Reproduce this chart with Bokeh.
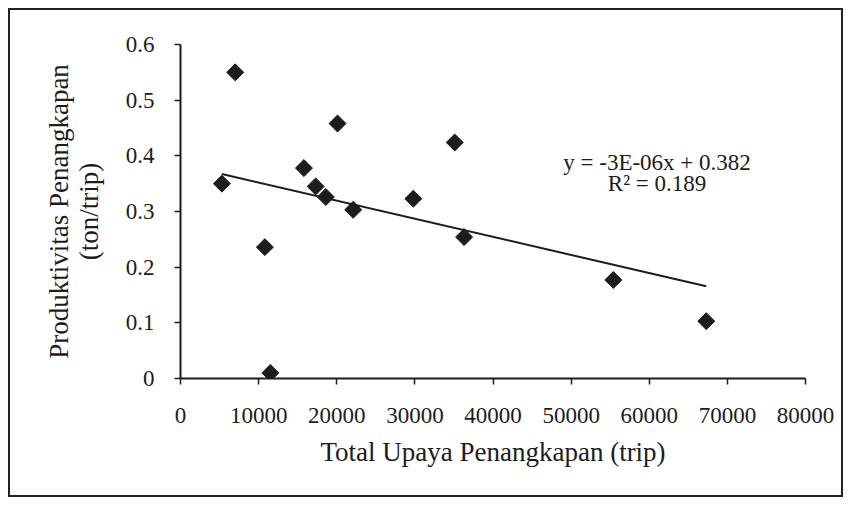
import numpy as np
from bokeh.plotting import figure
from bokeh.models import Range1d, FixedTicker, Label
from bokeh.embed import file_html
from bokeh.resources import INLINE

# ---- data ----
effort = [5300, 7000, 10800, 11500, 15800, 17300, 18600, 20100, 22100, 29800,
          35100, 36300, 55400, 67300]
productivity = [0.350, 0.550, 0.236, 0.010, 0.378, 0.345, 0.326, 0.458, 0.303,
                0.323, 0.424, 0.254, 0.177, 0.103]

x_ticks = [0, 10000, 20000, 30000, 40000, 50000, 60000, 70000, 80000]
x_tick_labels = ["0", "10000", "20000", "30000", "40000", "50000", "60000", "70000", "80000"]
y_ticks = [0, 0.1, 0.2, 0.3, 0.4, 0.5, 0.6]
y_tick_labels = ["0", "0.1", "0.2", "0.3", "0.4", "0.5", "0.6"]

x_title = "Total Upaya Penangkapan (trip)"
y_title = "Produktivitas Penangkapan\n(ton/trip)"
equation_text = "y = -3E-06x + 0.382"
r2_text = "R\u00b2 = 0.189"

# linear trend line (least squares, as in the original spreadsheet chart)
slope, intercept = np.polyfit(effort, productivity, 1)
trend_x = [min(effort), max(effort)]
trend_y = [slope * v + intercept for v in trend_x]

FONT = "'Liberation Serif', serif"
INK = "#1c1c1c"

p = figure(width=835, height=489, output_backend="svg", toolbar_location=None,
           x_range=Range1d(0, 80000), y_range=Range1d(0, 0.6),
           min_border_left=170, min_border_right=40, min_border_top=34,
           min_border_bottom=121)
p.background_fill_color = "white"
p.border_fill_color = "white"
p.outline_line_color = None
p.xgrid.visible = False
p.ygrid.visible = False
p.styles = {"border": "2px solid #222", "margin": "8px 0 0 8px"}

p.line(trend_x, trend_y, line_width=2, color=INK)
p.scatter(effort, productivity, marker="square", angle=np.pi / 4, size=12,
          color=INK)

for ax, ticks, labels in ((p.xaxis[0], x_ticks, x_tick_labels),
                          (p.yaxis[0], y_ticks, y_tick_labels)):
    ax.ticker = FixedTicker(ticks=ticks)
    ax.major_label_overrides = {t: l for t, l in zip(ticks, labels)}
    ax.axis_line_width = 2
    ax.axis_line_color = INK
    ax.major_tick_line_color = INK
    ax.major_tick_line_width = 1.5
    ax.major_tick_in = 0
    ax.major_tick_out = 6
    ax.minor_tick_in = 0
    ax.minor_tick_out = 0
    ax.major_label_text_font = FONT
    ax.major_label_text_font_size = "23px"
    ax.major_label_text_color = INK
    ax.axis_label_text_font = FONT
    ax.axis_label_text_font_size = "27px"
    ax.axis_label_text_font_style = "normal"
    ax.axis_label_text_color = INK

p.xaxis[0].axis_label = x_title
p.xaxis[0].major_label_standoff = 23
p.xaxis[0].axis_label_standoff = 11
p.yaxis[0].axis_label = y_title
p.yaxis[0].major_label_standoff = 20
p.yaxis[0].axis_label_standoff = 19
p.yaxis[0].axis_label_text_line_height = 1.0

p.add_layout(Label(x=61000, y=0.388, text=equation_text, text_align="center",
                   text_baseline="middle", text_font=FONT, text_font_size="23px",
                   text_color=INK))
p.add_layout(Label(x=61000, y=0.350, text=r2_text, text_align="center",
                   text_baseline="middle", text_font=FONT, text_font_size="23px",
                   text_color=INK))

open("out.html", "w").write(file_html(p, INLINE))
